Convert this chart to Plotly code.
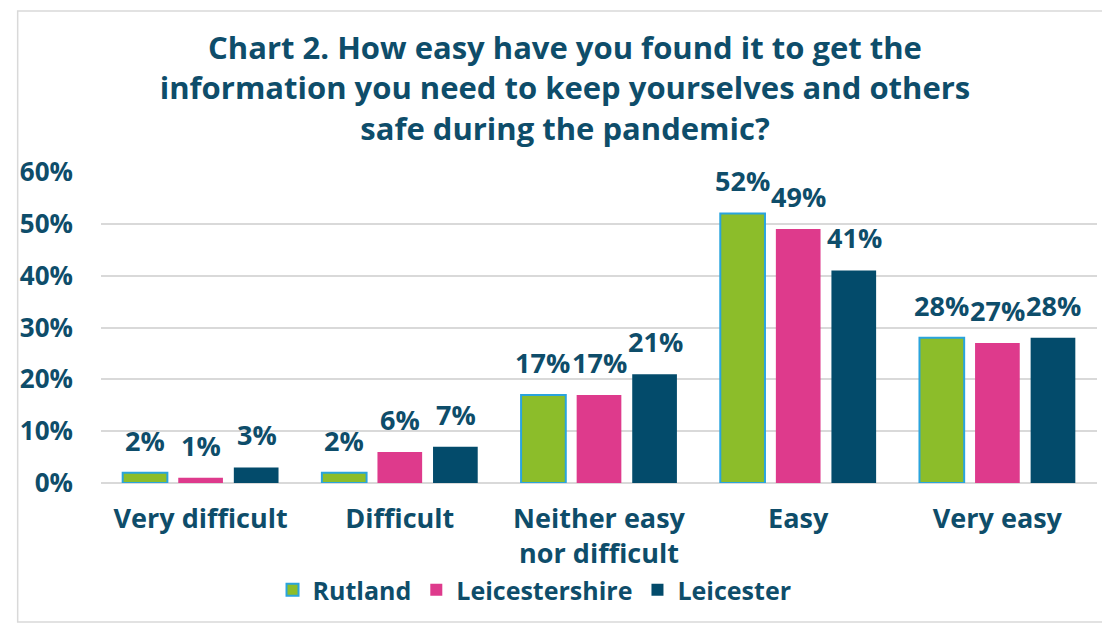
import plotly.graph_objects as go

categories = ["Very difficult", "Difficult", "Neither easy<br>nor difficult", "Easy", "Very easy"]
series_names = ["Rutland", "Leicestershire", "Leicester"]
rutland = [0.02, 0.02, 0.17, 0.52, 0.28]
leicestershire = [0.01, 0.06, 0.17, 0.49, 0.27]
leicester = [0.03, 0.07, 0.21, 0.41, 0.28]

TEXT = "#0E4D6A"
FONT = "Open Sans"

styles = [
    ("#8CBD2A", "#2AA4DD", 2),
    ("#DE3A8C", "#DE3A8C", 0),
    ("#034B6B", "#034B6B", 0),
]

# page body has an 8px margin, so everything is placed relative to that
FIG_W, FIG_H = 1102, 617
L, R, T, B = 85, 13, 164, 142
W, H = FIG_W - L - R, FIG_H - T - B
BARGAP = 0.163
slot = W / len(categories) * (1 - BARGAP) / 3

fig = go.Figure()
for i, (name, vals) in enumerate(zip(series_names, [rutland, leicestershire, leicester])):
    color, edge, lw = styles[i]
    fig.add_trace(
        go.Bar(
            x=categories,
            y=vals,
            name=name,
            marker=dict(color=color, line=dict(color=edge, width=lw)),
        )
    )
    # value labels above each bar
    for cat, v in zip(categories, vals):
        fig.add_annotation(
            x=cat,
            y=v,
            text=f"{v:.0%}",
            showarrow=False,
            xshift=(i - 1) * slot,
            yanchor="bottom",
            yshift=12,
            font=dict(family=FONT, size=27, color=TEXT, weight="bold"),
        )

fig.add_shape(
    type="rect",
    xref="paper",
    yref="paper",
    x0=(1 - L) / W,
    x1=(1097 - L) / W,
    y0=(475 - 614) / H,
    y1=(475 - 3) / H,
    line=dict(color="#D9D9D9", width=1.5),
    layer="below",
)

fig.update_layout(
    width=FIG_W,
    height=FIG_H,
    margin=dict(l=L, r=R, t=T, b=B),
    plot_bgcolor="white",
    paper_bgcolor="white",
    barmode="group",
    bargap=BARGAP,
    bargroupgap=0.196,
    title=dict(
        text="Chart 2. How easy have you found it to get the<br>"
        "information you need to keep yourselves and others<br>"
        "safe during the pandemic?",
        x=557 / FIG_W,
        xanchor="center",
        y=1 - 51 / FIG_H,
        yanchor="middle",
        font=dict(family=FONT, size=31, color=TEXT, weight="bold"),
    ),
    legend=dict(
        orientation="h",
        x=(522 - L) / W,
        xanchor="center",
        y=(475 - 582) / H,
        yanchor="middle",
        font=dict(family=FONT, size=25, color=TEXT, weight="bold"),
        itemwidth=30,
        traceorder="normal",
    ),
)
fig.update_yaxes(
    range=[0, 0.6],
    dtick=0.1,
    tickformat=".0%",
    showgrid=True,
    gridcolor="#D9D9D9",
    gridwidth=1.5,
    zeroline=True,
    zerolinecolor="#D9D9D9",
    zerolinewidth=1.5,
    tickfont=dict(family=FONT, size=26, color=TEXT, weight="bold"),
    ticks="",
    ticklabelstandoff=27,
)
fig.update_xaxes(
    tickfont=dict(family=FONT, size=27, color=TEXT, weight="bold"),
    ticks="",
    ticklabelstandoff=17,
)

fig.write_html("out.html")
